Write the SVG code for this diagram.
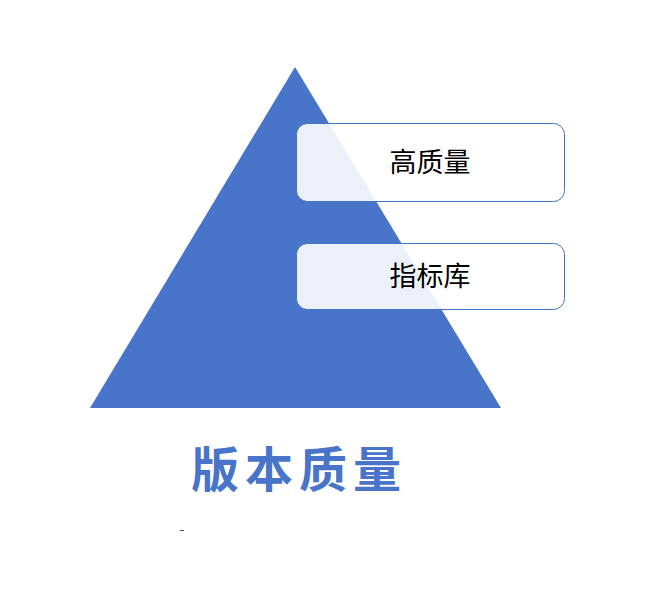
<svg xmlns="http://www.w3.org/2000/svg" width="652" height="601" viewBox="0 0 652 601">
<style>
.box{fill:#ffffff;fill-opacity:0.89;stroke:#4472C4;stroke-width:1}
.lbl{font-family:"Noto Sans CJK SC","Noto Sans",sans-serif;font-size:27px;fill:#000000;text-anchor:middle}
.title{font-family:"Noto Sans CJK SC","Noto Sans",sans-serif;font-size:48px;font-weight:bold;fill:#4874C9;text-anchor:middle;letter-spacing:6px}
</style>
<rect width="652" height="601" fill="#ffffff"/>
<g id="pyramid">
<polygon points="295,67 501,408 90,408" fill="#4874CA"/>
</g>
<g id="node-high-quality">
<rect class="box" x="296.5" y="123.5" width="268" height="78" rx="11"/>
<text class="lbl" x="430" y="172">高质量</text>
</g>
<g id="node-indicator-lib">
<rect class="box" x="296.5" y="243.5" width="268" height="66" rx="11"/>
<text class="lbl" x="430" y="286">指标库</text>
</g>
<g id="title">
<text class="title" x="299" y="487">版本质量</text>
</g>
<g id="connectors"></g>
<line x1="180" y1="530.5" x2="184" y2="530.5" stroke="#555555" stroke-width="1"/>
</svg>
